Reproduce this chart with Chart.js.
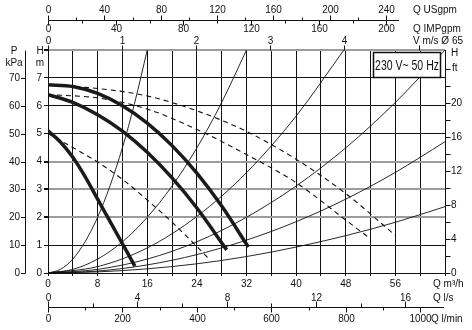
<!DOCTYPE html>
<html>
<head>
<meta charset="utf-8">
<script src="https://cdn.jsdelivr.net/npm/chart.js@4"></script>
<style>
  html, body { margin: 0; padding: 0; background: #fff; }
  canvas { display: block; }
</style>
</head>
<body>
<canvas id="pumpChart" width="472" height="330"></canvas>
<script>
// Pump curves: flow Q in m3/h, head H in m
const speed1Q = [0, 2, 4, 6, 8, 10, 12, 14];
const speed1H = [5.1, 4.7, 4.15, 3.45, 2.65, 1.85, 1.05, 0.25];
const speed2Q = [0, 4, 8, 12, 16, 20, 24, 28.8];
const speed2H = [6.4, 6.12, 5.68, 5.09, 4.33, 3.41, 2.33, 0.83];
const speed3Q = [0, 4, 8, 12, 16, 20, 24, 28, 32.3];
const speed3H = [6.75, 6.69, 6.44, 6.0, 5.38, 4.57, 3.58, 2.4, 0.93];

// dashed curves
const dash1Q = [0, 4, 8, 12, 16, 20, 24, 26.1];
const dash1H = [5.0, 4.5, 3.98, 3.36, 2.62, 1.82, 0.95, 0.47];
const dash2Q = [0, 8, 16, 24, 32, 40, 48, 51.9];
const dash2H = [6.4, 6.28, 5.88, 5.15, 4.25, 3.24, 1.9, 1.24];
const dash3Q = [0, 8, 16, 24, 32, 40, 48, 56];
const dash3H = [6.75, 6.62, 6.35, 5.82, 5.08, 4.08, 2.85, 1.35];

// system curves from the origin
const sys1Q = [0, 2, 4, 6, 8, 10, 12, 14, 16];
const sys1H = [0, 0.13, 0.5, 1.13, 2.0, 3.13, 4.5, 6.13, 8.0];
const sys2Q = [0, 4, 8, 12, 16, 20, 24, 28, 32];
const sys2H = [0, 0.13, 0.5, 1.12, 2.0, 3.12, 4.49, 6.12, 8.0];
const sys3Q = [0, 8, 16, 24, 32, 40, 47.7];
const sys3H = [0, 0.23, 0.9, 2.03, 3.6, 5.63, 8.0];
const sys4Q = [0, 8, 16, 24, 32, 40, 48, 56, 64];
const sys4H = [0, 0.13, 0.5, 1.12, 2.0, 3.12, 4.49, 6.12, 8.0];
const sys5Q = [0, 8, 16, 24, 32, 40, 48, 56, 64];
const sys5H = [0, 0.07, 0.29, 0.66, 1.18, 1.84, 2.65, 3.61, 4.71];
const sys6Q = [0, 8, 16, 24, 32, 40, 48, 56, 64];
const sys6H = [0, 0.04, 0.15, 0.33, 0.59, 0.93, 1.34, 1.82, 2.38];

// secondary axis labels
const usgpmTicks = [0, 40, 80, 120, 160, 200, 240];
const impgpmTicks = [0, 40, 80, 120, 160, 200];
const velocityTicks = [0, 1, 2, 3, 4];
const lsTicks = [0, 4, 8, 12, 16];
const lminTicks = [0, 200, 400, 600, 800, 1000];
const kpaTicks = [0, 10, 20, 30, 40, 50, 60, 70];
const ftTicks = [0, 4, 8, 12, 16, 20];

// unit conversions to m3/h and m
const M3H_PER_USGPM = 0.22712;
const M3H_PER_IMPGPM = 0.27277;
const M3H_PER_MS_DN65 = 11.946;
const M3H_PER_LS = 3.6;
const M3H_PER_LMIN = 0.06;
const M_PER_FT = 0.3048;
const M_PER_KPA = 0.1;

const INK = '#111';
const GREY = '#9c9c9c';
const FONT = '"Liberation Sans", Arial, sans-serif';

const pts = (qs, hs) => qs.map((q, i) => ({ x: q, y: hs[i] }));

const bold = (qs, hs) => ({
  data: pts(qs, hs), borderColor: '#1b1b1b', borderWidth: 3.5,
  pointRadius: 0, cubicInterpolationMode: 'monotone', borderCapStyle: 'butt'
});
const dashed = (qs, hs) => ({
  data: pts(qs, hs), borderColor: INK, borderWidth: 1.1, borderDash: [5, 4],
  pointRadius: 0, cubicInterpolationMode: 'monotone'
});
const thin = (qs, hs) => ({
  data: pts(qs, hs), borderColor: INK, borderWidth: 0.9,
  pointRadius: 0, cubicInterpolationMode: 'monotone'
});

// extra flow / pressure / velocity scales drawn around the plot
const extraAxes = {
  id: 'extraAxes',
  afterDraw(chart) {
    const { ctx, scales: { x, y } } = chart;
    const px = q => Math.round(x.getPixelForValue(q)) + 0.5;
    const py = h => Math.round(y.getPixelForValue(h)) + 0.5;
    const line = (x1, y1, x2, y2) => {
      ctx.beginPath(); ctx.moveTo(x1, y1); ctx.lineTo(x2, y2); ctx.stroke();
    };
    const text = (s, tx, ty, align) => {
      ctx.textAlign = align || 'center';
      ctx.fillText(s, tx, ty);
    };

    ctx.save();
    ctx.strokeStyle = INK;
    ctx.fillStyle = INK;
    ctx.lineWidth = 1;
    ctx.textBaseline = 'middle';
    ctx.font = '10px ' + FONT;

    const left = px(0);
    const right = px(64);
    const top = py(8);
    const bottom = py(0);

    // USgpm above / IMPgpm below a shared line
    const yTop = 20.5;
    line(left, yTop, 399, yTop);
    for (let v = 0; v <= 240; v += 20) {
      const xx = px(v * M3H_PER_USGPM);
      line(xx, yTop, xx, yTop - (v % 40 === 0 ? 5 : 3));
    }
    usgpmTicks.forEach(v => text(String(v), px(v * M3H_PER_USGPM), 10));
    for (let v = 0; v <= 200; v += 20) {
      const xx = px(v * M3H_PER_IMPGPM);
      line(xx, yTop, xx, yTop + (v % 40 === 0 ? 5 : 3));
    }
    impgpmTicks.forEach(v => text(String(v), px(v * M3H_PER_IMPGPM), 29));
    text('Q USgpm', 413, 10, 'left');
    text('Q IMPgpm', 413, 29, 'left');

    // pipe velocity for DN65
    for (let v = 0; v <= 5; v++) {
      const xx = px(v * M3H_PER_MS_DN65);
      line(xx, top - 5, xx, top);
    }
    velocityTicks.forEach(v => text(String(v), px(v * M3H_PER_MS_DN65), 41));
    text('V m/s \u00d8 65', 413, 41, 'left');

    // l/s above / l/min below a shared line
    const yBot = 307.5;
    line(left, yBot, 444, yBot);
    for (let v = 0; v <= 16; v += 2) {
      const xx = px(v * M3H_PER_LS);
      line(xx, yBot, xx, yBot - (v % 4 === 0 ? 6 : 4));
    }
    lsTicks.forEach(v => text(String(v), px(v * M3H_PER_LS), 298));
    for (let v = 0; v <= 1000; v += 100) {
      const xx = px(v * M3H_PER_LMIN);
      line(xx, yBot, xx, yBot + (v % 200 === 0 ? 5 : 3));
    }
    lminTicks.forEach(v => text(String(v), px(v * M3H_PER_LMIN), 319));
    text('Q m\u00b3/h', 433, 284, 'left');
    text('Q l/s', 433, 298, 'left');
    text('Q l/min', 431, 319, 'left');

    // pressure in kPa on the far left
    line(25.5, top, 25.5, bottom);
    kpaTicks.forEach(v => {
      const yy = py(v * M_PER_KPA);
      line(21, yy, 25.5, yy);
      text(String(v), 20, yy, 'right');
    });
    text('P', 14, 51);
    text('kPa', 14, 63);
    text('H', 40, 51);
    text('m', 40, 63);

    // head in ft on the right
    for (let v = 0; v <= 24; v += 2) {
      const yy = py(v * M_PER_FT);
      line(right, yy, right + 5, yy);
    }
    ftTicks.forEach(v => text(String(v), 451, py(v * M_PER_FT), 'left'));
    text('H', 451, 53, 'left');
    text('ft', 452, py(24 * M_PER_FT) - 1, 'left');

    // supply label box
    ctx.fillStyle = '#fff';
    ctx.fillRect(373, 52, 68, 26);
    ctx.lineWidth = 1.5;
    ctx.strokeRect(373.5, 52.5, 67, 25);
    ctx.fillStyle = INK;
    ctx.translate(407, 66);
    ctx.scale(0.7, 1);
    ctx.font = '15px ' + FONT;
    text('230 V~ 50 Hz', 0, 0);
    ctx.restore();
  }
};

const greyRows = [2, 3, 4, 8];

new Chart(document.getElementById('pumpChart'), {
  type: 'line',
  data: {
    datasets: [
      thin(sys1Q, sys1H), thin(sys2Q, sys2H), thin(sys3Q, sys3H),
      thin(sys4Q, sys4H), thin(sys5Q, sys5H), thin(sys6Q, sys6H),
      dashed(dash1Q, dash1H), dashed(dash2Q, dash2H), dashed(dash3Q, dash3H),
      bold(speed1Q, speed1H), bold(speed2Q, speed2H), bold(speed3Q, speed3H)
    ]
  },
  options: {
    responsive: false,
    animation: false,
    devicePixelRatio: 1,
    layout: { padding: { left: 0, right: 27, top: 50, bottom: 0 } },
    plugins: { legend: { display: false }, tooltip: { enabled: false } },
    scales: {
      x: {
        type: 'linear', min: 0, max: 64,
        afterFit: s => { s.height = 57; },
        ticks: {
          stepSize: 4, autoSkip: false, maxRotation: 0, padding: 2,
          color: INK, font: { family: FONT, size: 10 },
          callback: v => (v % 8 === 0 && v < 64 ? v : '')
        },
        grid: { color: INK, lineWidth: 1, tickLength: 3, tickColor: INK },
        border: { color: INK, width: 1 }
      },
      y: {
        type: 'linear', min: 0, max: 8,
        afterFit: s => { s.width = 48; },
        ticks: {
          stepSize: 1, padding: 2, color: INK, font: { family: FONT, size: 10 },
          callback: v => (v < 8 ? v : '')
        },
        grid: {
          color: c => (greyRows.includes(c.tick.value) ? GREY : INK),
          lineWidth: c => (greyRows.includes(c.tick.value) ? 2 : 1),
          tickLength: 4,
          tickColor: INK
        },
        border: { color: INK, width: 1 }
      }
    }
  },
  plugins: [extraAxes]
});
</script>
</body>
</html>
